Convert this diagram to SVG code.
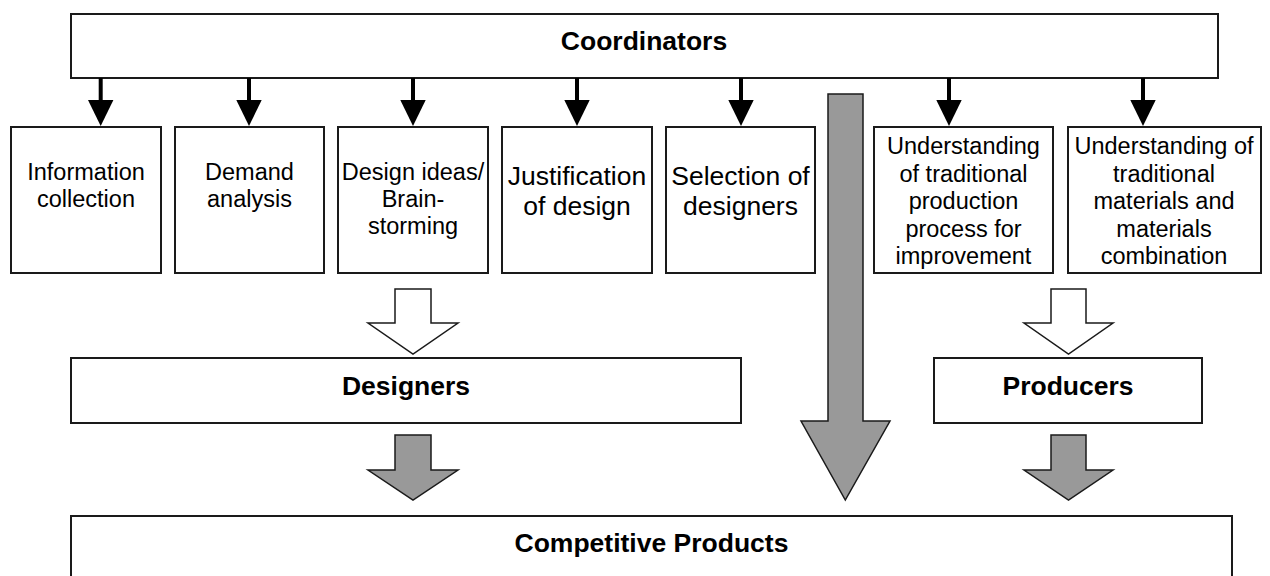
<svg xmlns="http://www.w3.org/2000/svg" width="1270" height="576" viewBox="0 0 1270 576">
  <style>
    .box { fill: #fff; stroke: #1a1a1a; stroke-width: 2; }
    .lbl { font-family: "Liberation Sans", Arial, sans-serif; font-size: 23.5px; fill: #000; text-anchor: middle; }
    .lbl-lg { font-size: 26.5px; }
    .head { font-family: "Liberation Sans", Arial, sans-serif; font-size: 26.5px; font-weight: bold; fill: #000; text-anchor: middle; }
    .link { stroke: #000; stroke-width: 4; fill: none; }
    .tip { fill: #000; stroke: none; }
    .block-open { fill: #fff; stroke: #1a1a1a; stroke-width: 1.5; stroke-linejoin: miter; }
    .block-grey { fill: #999999; stroke: #1a1a1a; stroke-width: 1.5; stroke-linejoin: miter; }
  </style>

  <!-- top-level coordinating body -->
  <g id="coordinators">
    <rect class="box" x="71" y="14" width="1147" height="64"/>
    <text class="head" x="644" y="50">Coordinators</text>
  </g>

  <!-- task boxes -->
  <g id="information-collection">
    <rect class="box" x="11" y="127" width="150" height="146"/>
    <text class="lbl" x="86" y="180">Information</text>
    <text class="lbl" x="86" y="207">collection</text>
  </g>
  <g id="demand-analysis">
    <rect class="box" x="175" y="127" width="149" height="146"/>
    <text class="lbl" x="249.5" y="180">Demand</text>
    <text class="lbl" x="249.5" y="207">analysis</text>
  </g>
  <g id="design-ideas">
    <rect class="box" x="338" y="127" width="150" height="146"/>
    <text class="lbl" x="413" y="180">Design ideas/</text>
    <text class="lbl" x="413" y="207">Brain-</text>
    <text class="lbl" x="413" y="234">storming</text>
  </g>
  <g id="justification">
    <rect class="box" x="502" y="127" width="150" height="146"/>
    <text class="lbl lbl-lg" x="577" y="185">Justification</text>
    <text class="lbl lbl-lg" x="577" y="215">of design</text>
  </g>
  <g id="selection">
    <rect class="box" x="666" y="127" width="149" height="146"/>
    <text class="lbl lbl-lg" x="740.5" y="185">Selection of</text>
    <text class="lbl lbl-lg" x="740.5" y="215">designers</text>
  </g>
  <g id="production-process">
    <rect class="box" x="874" y="127" width="179" height="146"/>
    <text class="lbl" x="963.5" y="154">Understanding</text>
    <text class="lbl" x="963.5" y="181.5">of traditional</text>
    <text class="lbl" x="963.5" y="209">production</text>
    <text class="lbl" x="963.5" y="236.5">process for</text>
    <text class="lbl" x="963.5" y="264">improvement</text>
  </g>
  <g id="materials">
    <rect class="box" x="1068" y="127" width="193" height="146"/>
    <text class="lbl" x="1164" y="154">Understanding of</text>
    <text class="lbl" x="1164" y="181.5">traditional</text>
    <text class="lbl" x="1164" y="209">materials and</text>
    <text class="lbl" x="1164" y="236.5">materials</text>
    <text class="lbl" x="1164" y="264">combination</text>
  </g>

  <!-- groups of actors -->
  <g id="designers">
    <rect class="box" x="71" y="358" width="670" height="65"/>
    <text class="head" x="406" y="395">Designers</text>
  </g>
  <g id="producers">
    <rect class="box" x="934" y="358" width="268" height="65"/>
    <text class="head" x="1068" y="395">Producers</text>
  </g>
  <g id="competitive-products">
    <rect class="box" x="71" y="516" width="1161" height="80"/>
    <text class="head" x="651.5" y="552">Competitive Products</text>
  </g>

  <g id="connectors">
    <!-- coordinator to task arrows -->
    <g>
      <line class="link" x1="100.7" y1="78" x2="100.7" y2="102"/>
      <polygon class="tip" points="88,100 113.4,100 100.7,126"/>
      <line class="link" x1="249" y1="78" x2="249" y2="102"/>
      <polygon class="tip" points="236.3,100 261.7,100 249,126"/>
      <line class="link" x1="413" y1="78" x2="413" y2="102"/>
      <polygon class="tip" points="400.3,100 425.7,100 413,126"/>
      <line class="link" x1="577" y1="78" x2="577" y2="102"/>
      <polygon class="tip" points="564.3,100 589.7,100 577,126"/>
      <line class="link" x1="741" y1="78" x2="741" y2="102"/>
      <polygon class="tip" points="728.3,100 753.7,100 741,126"/>
      <line class="link" x1="949" y1="78" x2="949" y2="102"/>
      <polygon class="tip" points="936.3,100 961.7,100 949,126"/>
      <line class="link" x1="1143" y1="78" x2="1143" y2="102"/>
      <polygon class="tip" points="1130.3,100 1155.7,100 1143,126"/>
    </g>

    <!-- open block arrows into designers / producers -->
    <polygon class="block-open" points="395,289 431,289 431,323 458,323 413,354 368,323 395,323"/>
    <polygon class="block-open" points="1051,289 1086,289 1086,323 1113,323 1068.5,354 1024,323 1051,323"/>

    <!-- grey block arrows into competitive products -->
    <polygon class="block-grey" points="395,435 431,435 431,470 458,470 413,500 368,470 395,470"/>
    <polygon class="block-grey" points="1051,435 1086,435 1086,470 1113,470 1068.5,500 1024,470 1051,470"/>

    <!-- long grey arrow from coordinators straight to products -->
    <polygon class="block-grey" points="828,94 863,94 863,421 890,421 845.3,500 801,421 828,421"/>
  </g>
</svg>
